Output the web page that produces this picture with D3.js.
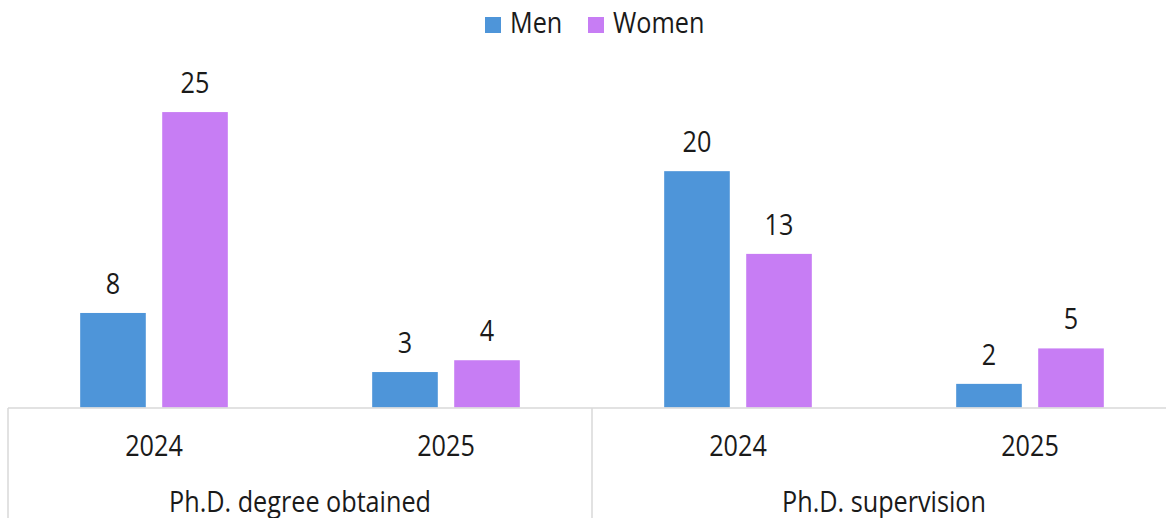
<!DOCTYPE html>
<html lang="en">
<head>
<meta charset="UTF-8">
<title>Ph.D. chart</title>
<script src="https://cdn.jsdelivr.net/npm/d3@7"></script>
<style>
  body { margin: 0; background: #fff; }
  text { font-family: "Open Sans", sans-serif; fill: #1a1a1a; }
  .grid line { stroke: #d9d9d9; stroke-width: 1.5; }
</style>
</head>
<body>
<svg width="1166" height="518"></svg>
<script>
// data
var groups = ["Ph.D. degree obtained", "Ph.D. supervision"];
var years = ["2024", "2025"];
var series = ["Men", "Women"];
var men = [8, 3, 20, 2];
var women = [25, 4, 13, 5];
var colors = ["#4e95d9", "#c77df4"];

var rows = [];
groups.forEach(function(g, gi) {
  years.forEach(function(y, yi) {
    var i = gi * years.length + yi;
    rows.push({group: g, year: y, key: g + "|" + y, values: [men[i], women[i]]});
  });
});

var svg = d3.select("svg");
var fs = 25.2, stretch = 1.16;

function label(sel, x, y, t) {
  return sel.append("text")
    .attr("transform", "translate(" + x + "," + y + ") scale(1," + stretch + ")")
    .attr("text-anchor", "middle")
    .style("font-size", fs + "px")
    .text(t);
}

var x0 = d3.scaleBand().domain(rows.map(function(d) { return d.key; })).range([8, 1176]);
var xg = d3.scaleBand().domain(groups).range([8, 1176]);
var x1 = d3.scaleBand().domain(series).range([0, x0.bandwidth()]).paddingInner(0.2).paddingOuter(0.88);
var y = d3.scaleLinear().domain([0, 30]).range([407.5, 53]);

// bars
var cat = svg.append("g").selectAll("g").data(rows).enter().append("g")
  .attr("transform", function(d) { return "translate(" + x0(d.key) + ",0)"; });

cat.selectAll("rect").data(function(d) { return d.values; }).enter().append("rect")
  .attr("x", function(d, i) { return x1(series[i]); })
  .attr("y", function(d) { return y(d); })
  .attr("width", x1.bandwidth())
  .attr("height", function(d) { return y(0) - y(d); })
  .attr("fill", function(d, i) { return colors[i]; });

cat.each(function(d) {
  var g = d3.select(this);
  d.values.forEach(function(v, i) {
    label(g, x1(series[i]) + x1.bandwidth() / 2, y(v) - 19, v);
  });
});

// axis lines
var grid = svg.append("g").attr("class", "grid");
grid.append("line").attr("x1", 8).attr("x2", 1176).attr("y1", y(0) + 0.5).attr("y2", y(0) + 0.5);
[8, xg(groups[1])].forEach(function(xv) {
  grid.append("line").attr("x1", xv).attr("x2", xv).attr("y1", y(0) + 0.5).attr("y2", 518);
});

// tick labels
rows.forEach(function(d) {
  label(svg, x0(d.key) + x0.bandwidth() / 2, 456, d.year);
});
groups.forEach(function(g) {
  label(svg, xg(g) + xg.bandwidth() / 2, 512, g);
});

// legend
var leg = svg.append("g");
var legX = [485, 588];
series.forEach(function(s, i) {
  leg.append("rect").attr("x", legX[i]).attr("y", 17).attr("width", 16).attr("height", 16).attr("fill", colors[i]);
  leg.append("text")
    .attr("transform", "translate(" + (legX[i] + 25) + ",33) scale(1," + stretch + ")")
    .style("font-size", fs + "px")
    .text(s);
});
</script>
</body>
</html>
